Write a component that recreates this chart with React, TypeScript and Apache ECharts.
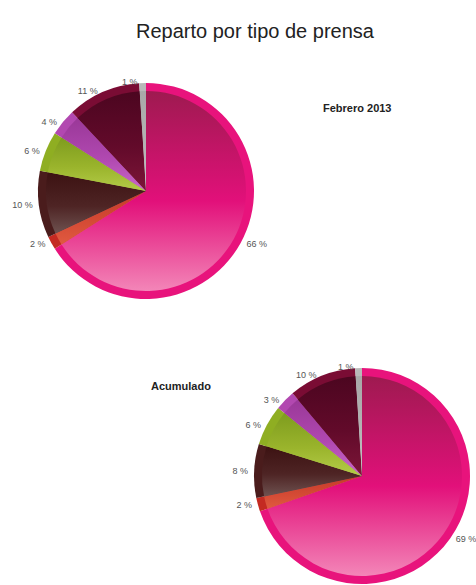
import React, { useEffect, useRef } from "react";
import * as echarts from "echarts";

const categories = ["Diaria", "Gratuita", "Semanal", "Mensual", "Trimestral", "Revistas", "Otros"];
const febreroValues = [66, 2, 10, 6, 4, 11, 1];
const acumuladoValues = [69, 2, 8, 6, 3, 10, 1];

const rimColors = ["#e8137c", "#c42a22", "#4a1c1c", "#8fae22", "#b248b0", "#7a0c34", "#b8b8b8"];
const innerTop = ["#9e1a50", "#c43a2a", "#3c1212", "#7e9c1e", "#9a3898", "#4c0620", "#a8a8a8"];
const innerMid = ["#e2107a", "#d44a34", "#4e2424", "#9ab42c", "#b048b0", "#620a2a", "#b4b4b4"];
const innerBottom = ["#f386b8", "#e05a40", "#6e5250", "#b4cc48", "#c868c8", "#7c1638", "#c4c4c4"];

function grad(i: number) {
  return new echarts.graphic.LinearGradient(0, 0, 0, 1, [
    { offset: 0, color: innerTop[i] },
    { offset: 0.55, color: innerMid[i] },
    { offset: 1, color: innerBottom[i] },
  ]);
}

function pieSeries(values: number[], center: [number, number]) {
  const outer = {
    type: "pie",
    center,
    radius: [0, 108],
    startAngle: 90,
    clockwise: true,
    avoidLabelOverlap: false,
    silent: true,
    label: {
      show: true,
      position: "outside",
      formatter: "{c} %",
      fontSize: 9,
      color: "#555",
      fontFamily: "Liberation Sans, Arial, sans-serif",
    },
    labelLine: { show: false, length: 1, length2: 0 },
    itemStyle: { borderWidth: 0 },
    data: values.map((v, i) => ({ name: categories[i], value: v, itemStyle: { color: rimColors[i] } })),
  };
  const inner = {
    type: "pie",
    center,
    radius: [0, 100],
    startAngle: 90,
    clockwise: true,
    silent: true,
    label: { show: false },
    labelLine: { show: false },
    itemStyle: { borderWidth: 0 },
    data: values.map((v, i) => ({ name: categories[i], value: v, itemStyle: { color: grad(i) } })),
  };
  return [outer, inner];
}

export default function App() {
  const ref = useRef<HTMLDivElement>(null);
  useEffect(() => {
    document.body.style.margin = "0";
    const chart = echarts.init(ref.current!, null, { renderer: "svg" });
    chart.setOption({
      animation: false,
      backgroundColor: "#ffffff",
      title: [
        {
          text: "Reparto por tipo de prensa",
          left: 131,
          top: 16,
          textStyle: { fontSize: 20, fontWeight: "normal", color: "#222", fontFamily: "Liberation Sans, Arial, sans-serif" },
        },
        {
          text: "Febrero 2013",
          left: 318,
          top: 97,
          textStyle: { fontSize: 11, fontWeight: "bold", color: "#222", fontFamily: "Liberation Sans, Arial, sans-serif" },
        },
        {
          text: "Acumulado",
          left: 146,
          top: 375,
          textStyle: { fontSize: 11, fontWeight: "bold", color: "#222", fontFamily: "Liberation Sans, Arial, sans-serif" },
        },
      ],
      series: [...pieSeries(febreroValues, [146, 191]), ...pieSeries(acumuladoValues, [362, 476])],
    });
    return () => chart.dispose();
  }, []);
  return <div ref={ref} style={{ width: 476, height: 585 }} />;
}
